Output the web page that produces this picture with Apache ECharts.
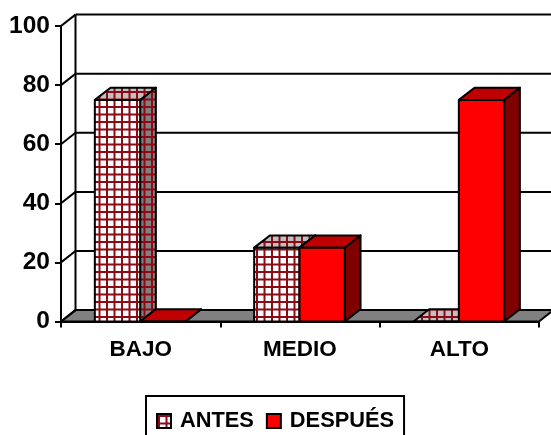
<!DOCTYPE html>
<html>
<head>
<meta charset="utf-8">
<style>html,body{margin:0;padding:0;background:#fff;overflow:hidden}#c{width:551px;height:435px}</style>
<script src="https://cdn.jsdelivr.net/npm/echarts@6/dist/echarts.min.js"></script>
</head>
<body>
<div id="c"></div>
<script>
const categories = ['BAJO', 'MEDIO', 'ALTO'];
const antes = [75, 25, 0];
const despues = [0, 25, 75];
const yTicks = [0, 20, 40, 60, 80, 100];

const WALL_DX = 14.5, WALL_DY = 11.4, DX = 15.7, DY = 12.2, BAR_FRAC = 0.2845, LW = 2;
const FONT = '"Liberation Sans", Arial, sans-serif';

function tile(bg) {
  const c = document.createElement('canvas');
  c.width = c.height = 15;
  const g = c.getContext('2d');
  g.fillStyle = bg; g.fillRect(0, 0, 15, 15);
  g.fillStyle = '#8b0a14';
  g.fillRect(0, 0, 15, 4); g.fillRect(0, 0, 4, 15);
  return { image: c, repeat: 'repeat', scaleX: 0.5, scaleY: 0.5, x: 1, y: 1 };
}
const patFront = tile('#ffffff'), patTop = tile('#c0c0c0'), patSide = tile('#808080');

function poly(points, fill) {
  return { type: 'polygon', shape: { points },
    style: { fill, stroke: '#000', lineWidth: LW, lineJoin: 'round' } };
}
function barRenderer(offset, front, top, side) {
  return function (params, api) {
    const i = api.value(0), v = api.value(1);
    const band = api.size([1, 0])[0], w = band * BAR_FRAC;
    const base = api.coord([i, 0]), tip = api.coord([i, v]);
    const x0 = base[0] - 0.5 + offset * w, x1 = x0 + w, y0 = base[1], y1 = tip[1];
    return { type: 'group', children: [
      poly([[x1, y1], [x1 + DX, y1 - DY], [x1 + DX, y0 - DY], [x1, y0]], side),
      poly([[x0, y1], [x0 + DX, y1 - DY], [x1 + DX, y1 - DY], [x1, y1]], top),
      poly([[x0, y1], [x1, y1], [x1, y0], [x0, y0]], front)
    ] };
  };
}
function wallRenderer(params, api) {
  const v = api.value(0), p = api.coord([0, v]);
  const rect = params.coordSys, left = rect.x, right = rect.x + rect.width;
  const y = p[1];
  const line = (a, b, c, d) => ({ type: 'line', shape: { x1: a, y1: b, x2: c, y2: d },
    style: { stroke: '#000', lineWidth: LW } });
  const kids = [
    line(left, y, left + WALL_DX, y - WALL_DY),
    line(left + WALL_DX, y - WALL_DY, right + WALL_DX, y - WALL_DY)
  ];
  if (v === yTicks[0]) {
    kids.unshift(poly([[left, y], [right, y], [right + WALL_DX, y - WALL_DY], [left + WALL_DX, y - WALL_DY]], '#808080'));
    const topY = api.coord([0, yTicks[yTicks.length - 1]])[1];
    kids.push(line(left + WALL_DX, y - WALL_DY, left + WALL_DX, topY - WALL_DY));
  }
  return { type: 'group', children: kids };
}

const chart = echarts.init(document.getElementById('c'), null, { renderer: 'canvas' });
chart.setOption({
  animation: false,
  backgroundColor: '#fff',
  grid: { left: 61, right: 12, top: 26, bottom: 113.5 },
  legend: {
    left: 146, top: 396,
    padding: [14, 10, 14, 10],
    itemWidth: 14, itemHeight: 14, itemGap: 12,
    borderColor: '#000', borderWidth: 2, backgroundColor: '#fff',
    selectedMode: false,
    textStyle: { fontFamily: FONT, fontSize: 21.8, fontWeight: 'bold', color: '#000', padding: [0, 0, 0, 4] },
    data: [
      { name: 'ANTES', icon: 'rect', itemStyle: { color: tile('#ffffff'), borderColor: '#000', borderWidth: 2 } },
      { name: 'DESPUÉS', icon: 'rect', itemStyle: { color: '#ff0000', borderColor: '#000', borderWidth: 2 } }
    ]
  },
  xAxis: {
    type: 'category', data: categories,
    axisLine: { show: true, lineStyle: { color: '#000', width: LW } },
    axisTick: { show: true, length: 6, lineStyle: { color: '#000', width: LW } },
    axisLabel: { fontFamily: FONT, fontSize: 22.5, fontWeight: 'bold', color: '#000', margin: 17 },
    splitLine: { show: false }
  },
  yAxis: {
    type: 'value', min: 0, max: 100, interval: 20,
    axisLine: { show: true, lineStyle: { color: '#000', width: LW } },
    axisTick: { show: true, length: 6, lineStyle: { color: '#000', width: LW } },
    axisLabel: { fontFamily: FONT, fontSize: 24.5, fontWeight: 'bold', color: '#000', margin: 11, padding: [2, 0, 0, 0] },
    splitLine: { show: false }
  },
  series: [
    { type: 'custom', name: 'wall', silent: true, z: 1, clip: false,
      data: yTicks.map(v => [v]), encode: { y: 0 }, renderItem: wallRenderer },
    { type: 'custom', name: 'ANTES', z: 2, clip: false,
      data: antes.map((v, i) => [i, v]), encode: { x: 0, y: 1 },
      renderItem: barRenderer(-1, patFront, patTop, patSide) },
    { type: 'custom', name: 'DESPUÉS', z: 3, clip: false,
      data: despues.map((v, i) => [i, v]), encode: { x: 0, y: 1 },
      renderItem: barRenderer(0, '#ff0000', '#c00000', '#800000') }
  ]
});
</script>
</body>
</html>
